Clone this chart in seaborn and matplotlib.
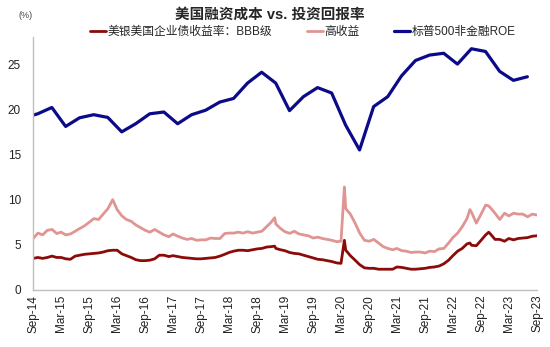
import matplotlib
matplotlib.use("Agg")
import matplotlib.pyplot as plt
import matplotlib.dates as mdates
import pandas as pd
import seaborn as sns

# ---------------- data ----------------
month_start = "2014-09-01"
bbb_monthly = [3.5, 3.6, 3.5, 3.6, 3.75, 3.6, 3.6, 3.45, 3.4, 3.75, 3.85, 3.95, 4.0, 4.05, 4.1, 4.2,
               4.35, 4.4, 4.4, 4.0, 3.8, 3.6, 3.35, 3.25, 3.25, 3.3, 3.45, 3.85, 3.85, 3.7, 3.8, 3.7,
               3.6, 3.55, 3.5, 3.45, 3.45, 3.5, 3.55, 3.6, 3.75, 3.95, 4.15, 4.3, 4.4, 4.4, 4.35, 4.45,
               4.55, 4.6, 4.75, 4.8, 4.6, 4.45, 4.35, 4.15, 4.05, 4.0, 3.85, 3.7, 3.55, 3.4, 3.35, 3.25,
               3.15, 3.0, 2.95, 4.4, 3.8, 3.3, 2.8, 2.45, 2.4, 2.4, 2.3, 2.3, 2.3, 2.3, 2.55, 2.5,
               2.4, 2.3, 2.3, 2.35, 2.4, 2.5, 2.55, 2.65, 2.9, 3.3, 3.8, 4.3, 4.6, 5.1, 4.95, 4.9,
               5.5, 6.1, 6.2, 5.6, 5.6, 5.4, 5.7, 5.55, 5.7, 5.75, 5.8, 5.95, 6.0]
hy_monthly = [5.7, 6.3, 6.1, 6.6, 6.7, 6.25, 6.4, 6.1, 6.2, 6.5, 6.8, 7.1, 7.5, 7.9, 7.8, 8.4,
              9.0, 10.0, 8.9, 8.2, 7.8, 7.6, 7.2, 6.9, 6.6, 6.4, 6.7, 6.4, 6.1, 5.9, 6.2, 5.95,
              5.75, 5.6, 5.7, 5.5, 5.55, 5.55, 5.75, 5.7, 5.7, 6.25, 6.3, 6.3, 6.4, 6.3, 6.45, 6.3,
              6.4, 6.5, 7.0, 7.5, 7.3, 6.8, 6.45, 6.27, 6.5, 6.2, 6.1, 6.0, 5.75, 5.85, 5.7, 5.6,
              5.5, 5.35, 5.4, 9.0, 8.4, 7.4, 6.3, 5.5, 5.4, 5.6, 5.2, 4.8, 4.6, 4.45, 4.6, 4.35,
              4.3, 4.15, 4.2, 4.2, 4.1, 4.3, 4.25, 4.55, 4.6, 5.2, 5.8, 6.3, 7.0, 7.9, 8.6, 7.4,
              8.4, 9.4, 9.1, 8.5, 7.8, 8.5, 8.2, 8.5, 8.4, 8.4, 8.1, 8.4, 8.3]
spike_dates = ["2018-12-24", "2020-03-23", "2022-06-20", "2022-10-21"]
bbb_spikes = [4.85, 5.5, 5.2, 6.4]
hy_spikes = [8.0, 11.4, 8.9, 9.3]

roe_start = "2014-06-30"
roe_values = [19.05, 19.5, 20.2, 18.1, 19.06, 19.4, 19.1, 17.5, 18.4, 19.5, 19.7, 18.4, 19.4,
              19.9, 20.8, 21.2, 22.9, 24.1, 22.9, 19.85, 21.4, 22.4, 21.8, 18.25, 15.5, 20.3,
              21.4, 23.7, 25.4, 26.0, 26.2, 25.0, 26.7, 26.4, 24.2, 23.2, 23.6]

yticks = [0, 5, 10, 15, 20, 25]
title = "美国融资成本 vs. 投资回报率"
lab_bbb = "美银美国企业债收益率：BBB级"
lab_hy = "高收益"
lab_roe = "标普500非金融ROE"

# ---------------- frames ----------------
mdates_idx = pd.date_range(month_start, periods=len(bbb_monthly), freq=pd.offsets.MonthBegin())
yld = pd.DataFrame({"date": mdates_idx, "bbb": bbb_monthly, "hy": hy_monthly})
spk = pd.DataFrame({"date": pd.to_datetime(spike_dates), "bbb": bbb_spikes, "hy": hy_spikes})
yld = pd.concat([yld, spk]).sort_values("date").reset_index(drop=True)
roe = pd.DataFrame({"date": pd.date_range(roe_start, periods=len(roe_values),
                                          freq=pd.offsets.QuarterEnd()),
                    "roe": roe_values})

# ---------------- style ----------------
sns.set_style("white")
fam = ["Liberation Sans", "Noto Sans CJK SC", "DejaVu Sans"]
plt.rcParams["font.family"] = fam

c_bbb = "#8B0A0A"
c_hy = "#E09592"
c_roe = "#0B0B8A"
gray = "#BFBFBF"

fig = plt.figure(figsize=(5.5, 3.47), dpi=100)
ax = fig.add_axes([33.3 / 550, 1 - 290 / 347, (537 - 33.3) / 550, (290 - 37) / 347])

sns.lineplot(data=yld, x="date", y="hy", ax=ax, color=c_hy, lw=2.0, label=lab_hy)
sns.lineplot(data=yld, x="date", y="bbb", ax=ax, color=c_bbb, lw=2.0, label=lab_bbb)
sns.lineplot(data=roe, x="date", y="roe", ax=ax, color=c_roe, lw=2.3, label=lab_roe)

ax.set_xlim(pd.Timestamp("2014-09-01"), pd.Timestamp("2023-09-01"))
ax.set_ylim(0, 28)
ax.set_yticks(yticks)
ax.set_xlabel("")
ax.set_ylabel("")
ax.xaxis.set_major_locator(mdates.MonthLocator(bymonth=[3, 9]))
ax.xaxis.set_major_formatter(mdates.DateFormatter("%b-%y"))

for s in ["top", "right"]:
    ax.spines[s].set_visible(False)
for s in ["left", "bottom"]:
    ax.spines[s].set_color(gray)
    ax.spines[s].set_linewidth(1.0)

ax.tick_params(axis="y", direction="in", length=3, color=gray, labelsize=8.5, pad=9,
               labelcolor="#222222")
ax.tick_params(axis="x", direction="in", length=3, color=gray, labelsize=8.5, pad=3.5,
               labelrotation=90, labelcolor="#222222")
ax.grid(False)

# legend in order BBB, HY, ROE
h, l = ax.get_legend_handles_labels()
order = [l.index(lab_bbb), l.index(lab_hy), l.index(lab_roe)]
ax.get_legend().remove()
fig.legend([h[i] for i in order], [l[i] for i in order], loc="center left",
           bbox_to_anchor=(90 / 550, 1 - 32 / 347), ncol=3, frameon=False,
           borderaxespad=0, borderpad=0, handlelength=1.35, handletextpad=0.15,
           columnspacing=2.9, prop={"family": fam, "size": 8.5})

fig.text(270 / 550, 1 - 15 / 347, title, ha="center", va="center", fontsize=10.5,
         fontweight="bold", family=fam)
fig.text(26 / 550, 1 - 15 / 347, "(%)", ha="center", va="center", fontsize=6.5,
         color="#444444", family=fam)

fig.savefig("out.png", dpi=100)
